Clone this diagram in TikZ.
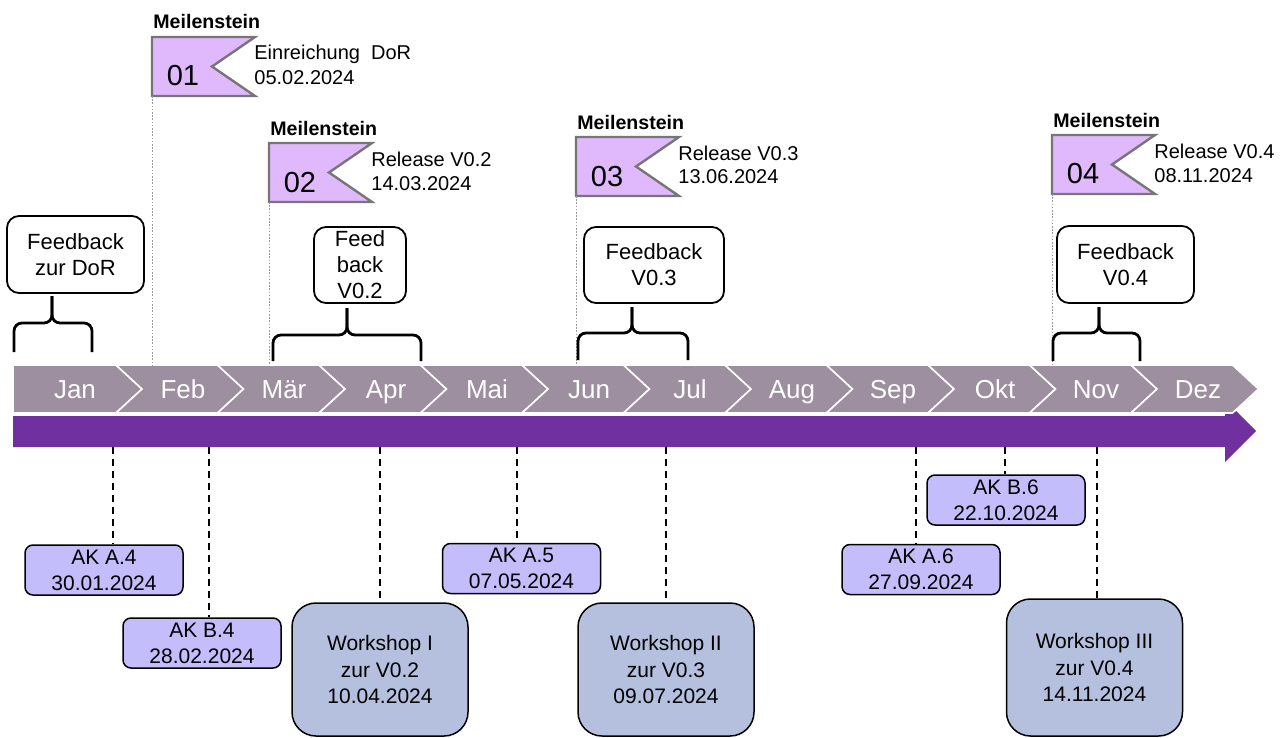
\documentclass[tikz,border=0pt]{standalone}
\usepackage{fontspec}
\setmainfont{Liberation Sans}
\usepackage{xcolor}
\usetikzlibrary{positioning,calc}
\definecolor{monthgray}{HTML}{9E8FA0}
\definecolor{barpurple}{HTML}{7030A0}
\definecolor{flaglilac}{HTML}{E0B8FC}
\definecolor{flagedge}{HTML}{767676}
\definecolor{akblue}{HTML}{C4BDFC}
\definecolor{wsblue}{HTML}{B4C0DD}

\tikzset{
  fbbox/.style={draw,line width=0.9pt,rounded corners=6pt,fill=white,align=center,inner sep=0pt,
    font=\fontsize{11}{13}\selectfont},
  akbox/.style={draw,line width=0.75pt,rounded corners=4pt,fill=akblue,align=center,inner sep=0pt,
    minimum width=79pt,minimum height=25pt,font=\fontsize{10.5}{13}\selectfont},
  wsbox/.style={draw,line width=0.75pt,rounded corners=12pt,fill=wsblue,align=center,inner sep=0pt,
    minimum width=88pt,minimum height=66.5pt,font=\fontsize{10.5}{13.3}\selectfont},
  akline/.style={line width=0.7pt,dash pattern=on 3.5pt off 2.5pt},
  msline/.style={gray!80,line width=0.5pt,dash pattern=on 0.8pt off 0.8pt},
  fbbrace/.style={line width=1.4pt,rounded corners=4pt},
  monthtxt/.style={white,anchor=base,font=\fontsize{13}{13}\selectfont},
  mstitle/.style={anchor=base west,inner sep=0pt,font=\fontsize{9.8}{10}\selectfont\bfseries},
  msnum/.style={anchor=base,inner sep=0pt,font=\fontsize{14.5}{14.5}\selectfont},
  mstext/.style={anchor=base west,inner sep=0pt,font=\fontsize{10}{10}\selectfont},
}

\begin{document}
\begin{tikzpicture}[x=0.5pt,y=-0.5pt]
\useasboundingbox (0,0) rectangle (1284,738);
\coordinate (bartop) at (0,365);
\coordinate (barbot) at (0,447);

\fill[barpurple] (13,416) -- (1225,416) -- (1225,400) -- (1256,431) -- (1225,462) -- (1225,447) -- (13,447) -- cycle;

\filldraw[fill=monthgray,draw=white,line width=0.8pt] (13,365) -- (116,365) -- (142,389) -- (116,413) -- (13,413) -- cycle;
\foreach \i in {1,...,11} {
  \pgfmathsetmacro\sl{116+101.5*(\i-1)}
  \pgfmathsetmacro\sr{\sl+101.5}
  \filldraw[fill=monthgray,draw=white,line width=0.8pt] (\sl,365) -- (\sr,365) -- (\sr+26,389) -- (\sr,413) -- (\sl,413) -- (\sl+26,389) -- cycle;
}
\foreach \m/\x [count=\i] in {Jan/75,Feb/183,Mär/284,Apr/386,Mai/487,Jun/589,Jul/690,Aug/792,Sep/893,Okt/995,Nov/1096,Dez/1198}
  \node[monthtxt] (mon\i) at (\x,398) {\m};

\foreach \n/\fx/\fy/\ta/\tb in {01/152/37/{Einreichung~~DoR}/05.02.2024,02/269/143/{Release V0.2}/14.03.2024,
    03/576/137/{Release V0.3}/13.06.2024,04/1052/135/{Release V0.4}/08.11.2024} {
  \filldraw[fill=flaglilac,draw=flagedge,line width=1.2pt] (\fx,\fy) -- ++(103,0) -- ++(-43,29.5) -- ++(43,29.5) -- ++(-103,0) -- cycle;
  \node[mstitle] (mst\n) at (\fx+1,\fy-8) {Meilenstein};
  \node[msnum] (msn\n) at (\fx+31,\fy+49) {\n};
  \node[mstext] (msa\n) at (\fx+102,\fy+23) {\ta};
  \node[mstext] (msb\n) at (\fx+102,\fy+47) {\tb};
  \coordinate (msf\n) at (\fx,\fy+59);
  \draw[msline] (msf\n) -- (msf\n |- bartop);
}

\node[fbbox,minimum width=68.5pt,minimum height=38.5pt] (fbDoR) at (75.5,254.5) {Feedback\\zur DoR};
\node[fbbox,minimum width=46pt,minimum height=38pt] (fbV02) at (360,265) {Feed\\back\\V0.2};
\node[fbbox,minimum width=70pt,minimum height=38pt] (fbV03) at (654,265) {Feedback\\V0.3};
\node[fbbox,minimum width=68.5pt,minimum height=38.5pt] (fbV04) at (1125.5,264.5) {Feedback\\V0.4};

\foreach \bl/\bs/\br/\bt/\bh/\bb in {14/52/92/296/323/352,273/347/421/308/335/361,
    578/632/688/307/333/360,1053/1099/1140/307/333/361} {
  \draw[fbbrace] (\bl,\bb) -- (\bl,\bh) -- (\bs,\bh) -- (\bs,\bt);
  \draw[fbbrace] (\br,\bb) -- (\br,\bh) -- (\bs,\bh) -- (\bs,\bt);
}

\node[akbox] (akA4) at (104,570) {AK A.4\\30.01.2024};
\node[akbox] (akB4) at (202,643) {AK B.4\\28.02.2024};
\node[akbox] (akA5) at (521.5,568.5) {AK A.5\\07.05.2024};
\node[akbox] (akA6) at (921,569.5) {AK A.6\\27.09.2024};
\node[akbox] (akB6) at (1006,500) {AK B.6\\22.10.2024};
\node[wsbox] (ws1) at (380,669.5) {Workshop I\\zur V0.2\\10.04.2024};
\node[wsbox] (ws2) at (666,669.5) {Workshop II\\zur V0.3\\09.07.2024};
\node[wsbox,minimum height=68.5pt] (ws3) at (1094.5,667.5) {Workshop III\\zur V0.4\\14.11.2024};

\foreach \nm/\x in {akA4/113,akB4/209,ws1/380,akA5/517,ws2/666,akA6/916,akB6/1005,ws3/1097} {
  \coordinate (t\nm) at (\x,447);
  \draw[akline] (t\nm) -- (t\nm |- \nm.north);
}
\end{tikzpicture}
\end{document}
